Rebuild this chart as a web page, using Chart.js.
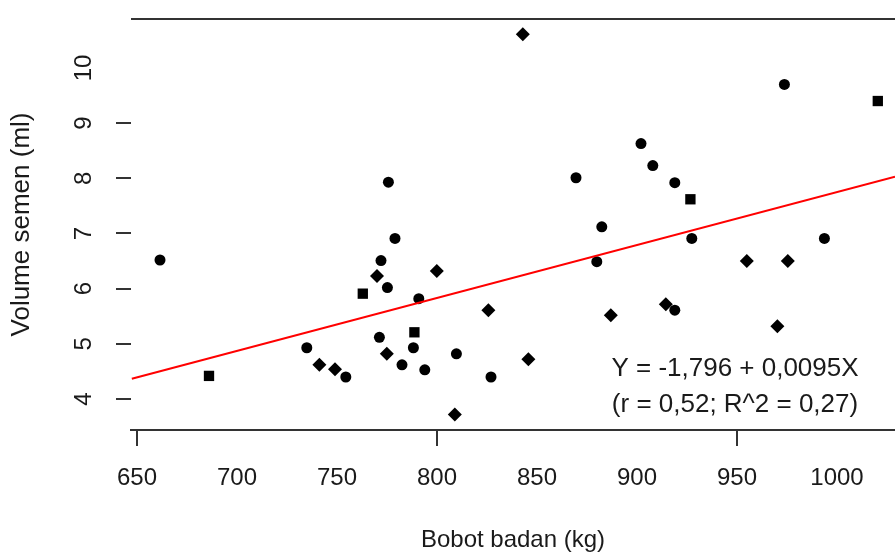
<!DOCTYPE html>
<html>
<head>
<meta charset="utf-8">
<script src="https://cdn.jsdelivr.net/npm/chart.js@4/dist/chart.umd.min.js"></script>
<style>
  body { margin: 0; background: #fff; }
</style>
</head>
<body>
<canvas id="scatter" width="895" height="552"></canvas>
<script>
// data
var circleX = [661.5, 734.9, 754.4, 772, 771.2, 775.2, 775.7, 779, 782.5, 788.2, 790.9, 793.9,
               809.7, 827, 869.5, 879.9, 882.4, 902, 907.9, 918.9, 918.9, 927.4, 973.7, 993.7];
var circleY = [6.52, 4.93, 4.40, 6.51, 5.12, 6.02, 7.93, 6.91, 4.62, 4.93, 5.82, 4.53,
               4.82, 4.40, 8.01, 6.49, 7.12, 8.63, 8.23, 7.92, 5.61, 6.91, 9.70, 6.91];
var diamondX = [741.2, 749, 770, 774.9, 799.9, 808.9, 825.7, 842.9, 845.7, 886.9, 914.4, 954.9, 970.2, 975.4];
var diamondY = [4.62, 4.54, 6.23, 4.82, 6.32, 3.72, 5.61, 10.61, 4.72, 5.52, 5.72, 6.50, 5.32, 6.50];
var squareX = [686, 762.9, 788.7, 926.7, 1020.4];
var squareY = [4.42, 5.91, 5.21, 7.62, 9.40];
var fitX = [647.4, 1029];
var fitY = [4.37, 8.03];

var xTicks = [650, 700, 750, 800, 850, 900, 950, 1000];
var xTickMarks = [650, 800, 950];
var yTicks = [4, 5, 6, 7, 8, 9, 10];
var yTickMarks = [4, 5, 6, 7, 8, 9];

var eqLines = ['Y = -1,796 + 0,0095X', '(r = 0,52; R^2 = 0,27)'];
var eqX = 949;
var eqY = [4.54, 3.89];

var ink = '#1a1a1a';
var axisInk = '#333333';
var fontName = "'Liberation Sans', Arial, sans-serif";

function pairs(xs, ys){
    var out = [];
    for(var i=0; i<xs.length; i++){
        out.push({x: xs[i], y: ys[i]});
    }
    return out;
}

// top frame line and the equation text
var extras = {
    id: 'extras',
    afterDraw: function(chart){
        var ctx = chart.ctx;
        var area = chart.chartArea;
        ctx.save();
        ctx.strokeStyle = axisInk;
        ctx.lineWidth = 2;
        ctx.beginPath();
        ctx.moveTo(area.left, area.top);
        ctx.lineTo(area.right, area.top);
        ctx.stroke();

        ctx.fillStyle = ink;
        ctx.font = '26px ' + fontName;
        ctx.textAlign = 'center';
        ctx.textBaseline = 'middle';
        var px = chart.scales.x.getPixelForValue(eqX);
        for(var i=0; i<eqLines.length; i++){
            ctx.fillText(eqLines[i], px, chart.scales.y.getPixelForValue(eqY[i]));
        }
        ctx.restore();
    }
};

var ctx = document.getElementById('scatter').getContext('2d');
var chart = new Chart(ctx, {
    type: 'scatter',
    data: {
        datasets: [{
            label: 'regresi',
            data: pairs(fitX, fitY),
            showLine: true,
            borderColor: '#ff0000',
            borderWidth: 2,
            pointRadius: 0,
            fill: false
        }, {
            label: 'bulat',
            data: pairs(circleX, circleY),
            pointStyle: 'circle',
            pointRadius: 5.5,
            backgroundColor: '#000',
            borderColor: '#000',
            borderWidth: 0
        }, {
            label: 'belah ketupat',
            data: pairs(diamondX, diamondY),
            pointStyle: 'rectRot',
            pointRadius: 7,
            backgroundColor: '#000',
            borderColor: '#000',
            borderWidth: 0
        }, {
            label: 'kotak',
            data: pairs(squareX, squareY),
            pointStyle: 'rect',
            pointRadius: 7.3,
            backgroundColor: '#000',
            borderColor: '#000',
            borderWidth: 0
        }]
    },
    options: {
        responsive: false,
        animation: false,
        devicePixelRatio: 1,
        layout: { autoPadding: false, padding: { top: 19, right: 0, bottom: 0, left: 0 } },
        plugins: {
            legend: { display: false },
            tooltip: { enabled: false }
        },
        scales: {
            x: {
                type: 'linear',
                min: 647,
                max: 1029,
                afterBuildTicks: function(s){
                    s.ticks = xTicks.map(function(v){ return {value: v}; });
                },
                afterFit: function(s){
                    s.height = 122;
                    s.paddingLeft = 0;
                    s.paddingRight = 0;
                },
                border: { display: true, color: axisInk, width: 2 },
                grid: {
                    display: true,
                    drawOnChartArea: false,
                    drawTicks: true,
                    tickLength: 16,
                    lineWidth: 2,
                    color: function(c){
                        return c.tick && xTickMarks.indexOf(c.tick.value) >= 0 ? axisInk : 'rgba(0,0,0,0)';
                    }
                },
                ticks: {
                    color: ink,
                    font: { family: fontName, size: 24 },
                    padding: 18,
                    maxRotation: 0,
                    autoSkip: false,
                    callback: function(v){ return String(v); }
                },
                title: {
                    display: true,
                    text: 'Bobot badan (kg)',
                    color: ink,
                    font: { family: fontName, size: 24, lineHeight: 1 },
                    padding: { top: 0, bottom: 0 }
                }
            },
            y: {
                type: 'linear',
                min: 3.44,
                max: 10.886,
                afterBuildTicks: function(s){
                    s.ticks = yTicks.map(function(v){ return {value: v}; });
                },
                afterFit: function(s){
                    s.width = 131;
                    s.paddingTop = 0;
                    s.paddingBottom = 0;
                },
                border: { display: false },
                grid: {
                    display: true,
                    drawOnChartArea: false,
                    drawTicks: true,
                    tickLength: 15,
                    lineWidth: 2,
                    color: function(c){
                        return c.tick && yTickMarks.indexOf(c.tick.value) >= 0 ? axisInk : 'rgba(0,0,0,0)';
                    }
                },
                ticks: {
                    color: ink,
                    font: { family: fontName, size: 24 },
                    padding: 18,
                    minRotation: 90,
                    maxRotation: 90,
                    crossAlign: 'center',
                    autoSkip: false,
                    callback: function(v){ return String(v); }
                },
                title: {
                    display: true,
                    text: 'Volume semen (ml)',
                    color: ink,
                    font: { family: fontName, size: 26, lineHeight: 1 },
                    padding: { top: 9, bottom: 0 }
                }
            }
        }
    },
    plugins: [extras]
});
</script>
</body>
</html>
